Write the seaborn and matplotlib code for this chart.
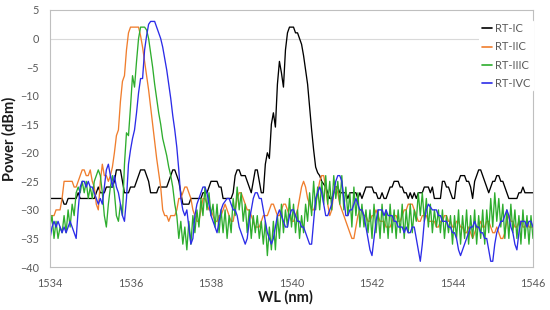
import numpy as np
import pandas as pd
import matplotlib
matplotlib.use("Agg")
import matplotlib.pyplot as plt
import seaborn as sns

# ---------------- data ----------------
wl_start = 1534.0
wl_step = 0.05
n_points = 241
wavelength = np.round(wl_start + wl_step * np.arange(n_points), 2)

series_names = ["RT-IC", "RT-IIC", "RT-IIIC", "RT-IVC"]

rt_ic = [
    -28, -28, -28, -28, -28, -28, -28, -29, -29, -28,
    -28, -28, -28, -28, -27, -28, -28, -28, -28, -28,
    -28, -28, -28, -27, -26, -27, -27, -27, -26, -26,
    -26, -26, -25, -23, -23, -23, -25, -27, -27, -27,
    -26, -26, -26, -25, -24, -23, -23, -23, -24, -25,
    -27, -27, -27, -27, -26, -26, -26, -26, -26, -25,
    -24, -23, -23, -24, -25, -27, -29, -29, -29, -29,
    -28, -28, -28, -28, -28, -28, -27, -27, -27, -26,
    -25, -25, -25, -25, -26, -26, -28, -28, -28, -28,
    -28, -27, -24, -23, -23, -24, -24, -24, -25, -26,
    -27, -25, -23, -23, -25, -27, -27, -22, -20, -21,
    -15, -13, -15.5, -8, -4, -6, -8.5, -2, 1, 2,
    2, 2, 1, 1, 0, -1, -3, -5.5, -8, -12,
    -16, -19.5, -22.5, -23.5, -24, -25, -25.5, -26, -27, -28,
    -28, -27, -26, -26, -27, -27, -27, -27, -28, -27,
    -27, -27, -27, -28, -27, -28, -27, -26, -26, -26,
    -26, -27, -27, -28, -28, -27, -28, -28, -27, -26,
    -26, -25, -25, -25, -26, -26, -27, -27, -28, -27,
    -28, -27, -28, -27, -27, -27, -26, -26, -26, -27,
    -26, -28, -28, -28, -28, -25, -25, -26, -26, -27,
    -28, -28, -25, -25, -24, -24, -24, -25, -25, -26,
    -28, -25, -24, -23, -23, -24, -25, -26, -27, -26,
    -25, -25, -24, -24, -25, -25, -26, -27, -28, -28,
    -28, -28, -28, -27, -27, -26, -27, -27, -27, -27,
    -27,
]

rt_iic = [
    -31, -31, -31, -30, -30, -30, -28, -25, -25, -25,
    -25, -25, -26, -26, -25, -24, -23, -23, -24, -24,
    -23, -25, -26, -29, -30, -25, -22, -24, -24, -25,
    -24, -22.5, -20, -17, -16, -11, -7.5, -6.5, -2, 1,
    2, 2, 2, 2, 2, 0.5, -1.5, -4, -6.5, -9,
    -12, -15, -18, -21, -23.5, -26, -30, -31, -31, -32,
    -31, -31, -31, -30, -28, -28, -27, -26, -26, -27,
    -28, -30, -31, -32, -32, -30, -28, -28, -29, -30,
    -30, -31, -32, -32, -31, -31, -30, -29, -30, -31,
    -32, -32, -30, -28, -27, -27, -28, -29, -30, -30,
    -31, -32, -33, -33, -33, -32, -31, -31, -31, -30,
    -29, -29, -30, -31, -31, -30, -29, -29, -30, -31,
    -32, -32, -31, -30, -28, -26, -25, -26, -28, -29,
    -30, -30, -29, -27, -25, -24, -24, -26, -29, -31,
    -30, -27, -26, -27, -29, -30, -31, -32, -33, -34,
    -35, -35, -33, -31, -30, -30, -31, -31, -32, -32,
    -31, -31, -30, -31, -32, -32, -32, -33, -33, -33,
    -32, -31, -31, -32, -32, -31, -30, -30, -29, -29,
    -29, -30, -31, -32, -32, -31, -31, -31, -32, -32,
    -32, -32, -33, -33, -32, -32, -31, -31, -32, -32,
    -33, -33, -32, -32, -33, -33, -34, -34, -33, -34,
    -35, -34, -33, -33, -32, -33, -33, -32, -32, -33,
    -34, -34, -33, -34, -35, -35, -34, -32, -31, -32,
    -32, -33, -33, -32, -32, -33, -33, -32, -33, -33,
    -33,
]

rt_iiic = [
    -33, -31, -35, -32, -35, -33, -34, -31, -34, -30,
    -33, -29, -31, -27, -26, -27, -25, -27, -25, -28,
    -26, -28, -25, -24, -23, -24, -27, -31, -33, -29,
    -26, -24, -27, -31, -32, -29, -31, -22, -16.5, -17,
    -12, -6.5, -8.5, -4, 0, 2, 2, 2, 1.5, 0,
    -2.5, -5, -8, -10.5, -13, -15, -17.5, -19, -20.5, -22.5,
    -24, -26, -29, -31, -35, -32, -36, -33, -37, -32,
    -36, -31, -34, -30, -33, -28, -31, -26, -30, -27,
    -31, -29, -33, -29, -34, -30, -34, -30, -35, -31,
    -34, -28, -31, -26, -30, -27, -32, -29, -34, -30,
    -35, -31, -34, -31, -35, -32, -36, -32, -38, -33,
    -37, -32, -37, -31, -35, -29, -34, -30, -33, -28,
    -33, -29, -34, -30, -35, -31, -34, -29, -32, -27,
    -31, -25, -30, -26, -30, -25, -29, -24, -29, -25,
    -30, -24, -28, -25, -29, -24, -30, -26, -31, -27,
    -33, -26, -31, -27, -33, -29, -33, -30, -34, -30,
    -35, -29, -34, -30, -35, -29, -34, -30, -35, -29,
    -34, -30, -35, -30, -34, -29, -35, -30, -34, -29,
    -34, -30, -32, -27, -31, -27, -32, -28, -33, -29,
    -34, -30, -33, -30, -34, -30, -35, -31, -34, -31,
    -36, -31, -35, -30, -36, -31, -35, -30, -36, -31,
    -35, -30, -36, -31, -35, -30, -36, -30, -34, -28,
    -33, -27, -32, -28, -33, -29, -35, -30, -35, -29,
    -34, -30, -35, -31, -36, -30, -35, -31, -36, -31,
    -35,
]

rt_ivc = [
    -35, -33, -32, -33, -32, -33, -34, -33, -34, -33,
    -32, -33, -34, -35, -30, -26, -25, -25, -26, -25,
    -26, -26, -27, -28, -29, -28, -29, -26, -23, -22,
    -24, -26, -24, -26, -27, -29, -31, -32, -28, -22,
    -19.5, -17.5, -16, -13, -9.5, -7, -7, -2, 0.5, 2.5,
    3, 3, 3, 2, 1, 0, -1.5, -3.5, -5.5, -8,
    -10.5, -13.5, -16, -19, -23, -28, -30, -31, -30, -33,
    -36, -35, -31, -29, -28, -27, -26, -26, -27, -29,
    -31, -32, -33, -34, -32, -30, -29, -28.5, -28, -28,
    -29, -30, -30, -31, -33, -34, -35, -36, -35, -32,
    -30, -28, -27, -27, -28, -28, -30, -32, -34, -35,
    -36, -35, -33, -31, -30, -31, -32, -33, -33, -31,
    -30, -30, -31, -32, -32, -33, -33, -34, -35, -36,
    -36, -32, -28, -27, -26, -27, -29, -31, -31, -30,
    -29, -27, -25, -24, -24, -25, -28, -31, -31, -30,
    -30, -29, -28, -29, -30, -30, -31, -33, -35, -37,
    -38, -35, -32, -30, -30, -30, -31, -30, -31, -31,
    -31, -32, -32, -33, -33, -33, -34, -33, -34, -34,
    -33, -33, -35, -37, -39, -36, -32, -30, -29, -29.5,
    -30, -30, -30, -31, -31, -32, -32, -32, -33, -33,
    -34, -34, -35, -37, -38, -37, -36, -35, -34, -33,
    -33, -32, -33, -33, -34, -34, -35, -35, -37, -39,
    -39, -36, -34, -33, -32, -32, -31, -30, -31, -33,
    -34, -36, -37, -34, -32, -32, -32, -33, -32, -32,
    -33,
]

x_ticks = [1534, 1536, 1538, 1540, 1542, 1544, 1546]
y_ticks = [-40, -35, -30, -25, -20, -15, -10, -5, 0, 5]

series_colors = ["#000000", "#F07E2E", "#2EAD2E", "#2C2CE8"]

# ---------------- build long table ----------------
frames = []
for name, vals in zip(series_names, [rt_ic, rt_iic, rt_iiic, rt_ivc]):
    frames.append(pd.DataFrame({"WL": wavelength, "Power": vals, "Series": name}))
df = pd.concat(frames, ignore_index=True)

# ---------------- plot ----------------
sns.set_theme(style="white")
plt.rcParams["font.family"] = ["Lato", "DejaVu Sans"]

fig = plt.figure(figsize=(5.5, 3.1), dpi=100)
ax = fig.add_axes([50 / 550, 43 / 310, 483 / 550, 257 / 310])

ax.axhline(0, color="#D9D9D9", lw=0.8, zorder=0)

sns.lineplot(
    data=df, x="WL", y="Power", hue="Series", hue_order=series_names,
    palette=series_colors, estimator=None, sort=False, linewidth=0.95, ax=ax,
)

ax.set_xlim(1534, 1546)
ax.set_ylim(-40, 5)
ax.set_xticks(x_ticks)
ax.set_yticks(y_ticks)
ax.tick_params(length=0, labelsize=7.8, colors="#595959", pad=8)

for s in ax.spines.values():
    s.set_visible(True)
    s.set_color("#BFBFBF")
    s.set_linewidth(0.8)

ax.set_xlabel("WL (nm)", fontsize=10.5, fontweight="bold", color="#1a1a1a")
ax.set_ylabel("Power (dBm)", fontsize=10.5, fontweight="bold", color="#1a1a1a")
ax.xaxis.set_label_coords(0.487, -0.088)
ax.yaxis.set_label_coords(-0.07, 0.5)

leg = ax.legend(
    loc="upper right", bbox_to_anchor=(1.008, 0.975), fontsize=8,
    frameon=True, facecolor="white", edgecolor="none", framealpha=1,
    handlelength=0.9, handletextpad=0.25, labelspacing=0.66,
    borderpad=0.3, borderaxespad=0.3,
)
for t in leg.get_texts():
    t.set_color("#595959")
for h in leg.get_lines():
    h.set_linewidth(1.2)

fig.savefig("out.png", dpi=100)
